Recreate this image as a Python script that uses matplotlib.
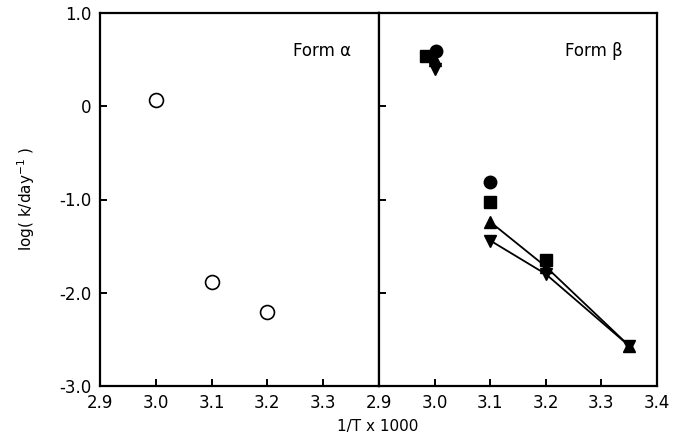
import numpy as np
import matplotlib.pyplot as plt

# Form alpha (open circles)
alpha_x = [3.0, 3.1, 3.2]
alpha_y = [0.07, -1.88, -2.21]

# Form beta series
circ_x = [3.003, 3.1]
circ_y = [0.59, -0.81]
sq_x = [2.985, 3.1, 3.2]
sq_y = [0.54, -1.03, -1.65]
up_x = [3.0, 3.1, 3.2, 3.35]
up_y = [0.50, -1.24, -1.72, -2.57]
dn_x = [3.0, 3.1, 3.2, 3.35]
dn_y = [0.40, -1.44, -1.80, -2.57]

xticks_left = [2.9, 3.0, 3.1, 3.2, 3.3]
xticks_right = [2.9, 3.0, 3.1, 3.2, 3.3, 3.4]
yticks = [1.0, 0.0, -1.0, -2.0, -3.0]
ytick_labels = ["1.0", "0", "-1.0", "-2.0", "-3.0"]

plt.rcParams["font.family"] = "DejaVu Sans"

W, H = 675, 438
fig = plt.figure(figsize=(W / 100, H / 100), dpi=100)
bottom = (H - 386) / H
height = 373 / H
ax1 = fig.add_axes([100 / W, bottom, 279 / W, height])
ax2 = fig.add_axes([379 / W, bottom, 278 / W, height])

for ax in (ax1, ax2):
    ax.set_xlim(2.9, 3.4)
    ax.set_ylim(-3.0, 1.0)
    for s in ax.spines.values():
        s.set_linewidth(1.6)
    ax.tick_params(direction="in", length=5, width=1.4, labelsize=12, pad=6)
    ax.set_yticks(yticks)

ax1.set_xticks(xticks_left)
ax1.set_xticklabels([f"{v:.1f}" for v in xticks_left])
ax1.set_yticklabels(ytick_labels)
ax2.set_xticks(xticks_right)
ax2.set_xticklabels([f"{v:.1f}" for v in xticks_right])
ax2.set_yticklabels([])

ax1.plot(alpha_x, alpha_y, "o", ms=10, mfc="white", mec="black", mew=1.2)

ax2.plot(up_x[1:], up_y[1:], "-", color="black", lw=1.3)
ax2.plot(dn_x[1:], dn_y[1:], "-", color="black", lw=1.3)
ax2.plot(up_x, up_y, "^", ms=9, color="black")
ax2.plot(dn_x, dn_y, "v", ms=9, color="black")
ax2.plot(sq_x, sq_y, "s", ms=9, color="black")
ax2.plot(circ_x, circ_y, "o", ms=9, color="black")

ax1.text(0.69, 0.885, "Form α", transform=ax1.transAxes, fontsize=12)
ax2.text(0.67, 0.885, "Form β", transform=ax2.transAxes, fontsize=12)

ax1.set_ylabel("log( k/day$^{-1}$ )", fontsize=11, labelpad=16)
fig.text(378 / W, 1 - 427 / H, "1/T x 1000", ha="center", va="center", fontsize=11)

fig.savefig("out.png", dpi=100)
